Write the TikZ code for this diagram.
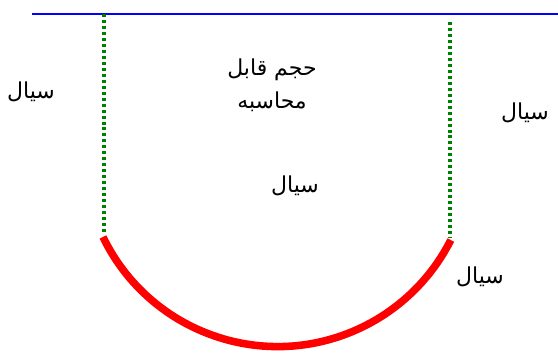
\documentclass[tikz,border=0pt]{standalone}
\usepackage{fontspec}
\newfontfamily\arabicfont[Script=Arabic]{DejaVu Sans}
\TeXXeTstate=1
\usetikzlibrary{calc,positioning}
\definecolor{fsBlue}{RGB}{0,0,255}
\definecolor{fsGreen}{RGB}{0,128,0}
\definecolor{fsRed}{RGB}{255,0,0}
\tikzset{
 fs surface/.style={fsBlue,line width=1.1pt},
 fs bound/.style={fsGreen,line width=2pt,dash pattern=on 1.7pt off 1.7pt},
 fs wall/.style={fsRed,line width=4.3pt},
 fs label/.style={font=\arabicfont\fontsize{12.5}{19}\selectfont,inner sep=1pt,align=center}
}

\begin{document}
\begin{tikzpicture}[x=0.02cm,y=0.02cm]
 \useasboundingbox (0,0) rectangle (558,354);
 % free surface on top, control volume between the dotted lines
 \coordinate (s1) at (32,340);
 \coordinate (s2) at (558,340);
 \coordinate (l1) at (104,340);
 \coordinate (l2) at (104,122);
 \coordinate (r1) at (450,332);
 \coordinate (r2) at (450,116);
 \coordinate (w1) at (103,117);

 \draw[fs surface] (s1)--(s2);
 \draw[fs bound] (l1)--(l2);
 \draw[fs bound] (r1)--(r2);
 \draw[fs wall] (w1) arc[start angle=205.8,end angle=333.2,radius=194];

 \node[fs label] (cv) at (272,269) {\beginR حجم قابل\endR\\\beginR محاسبه\endR};
 \node[fs label] (f1) at (31,262) {\beginR سیال\endR};
 \node[fs label] (f2) at (525,241) {\beginR سیال\endR};
 \node[fs label] (f3) at (295,168) {\beginR سیال\endR};
 \node[fs label] (f4) at (480,77) {\beginR سیال\endR};
\end{tikzpicture}
\end{document}
